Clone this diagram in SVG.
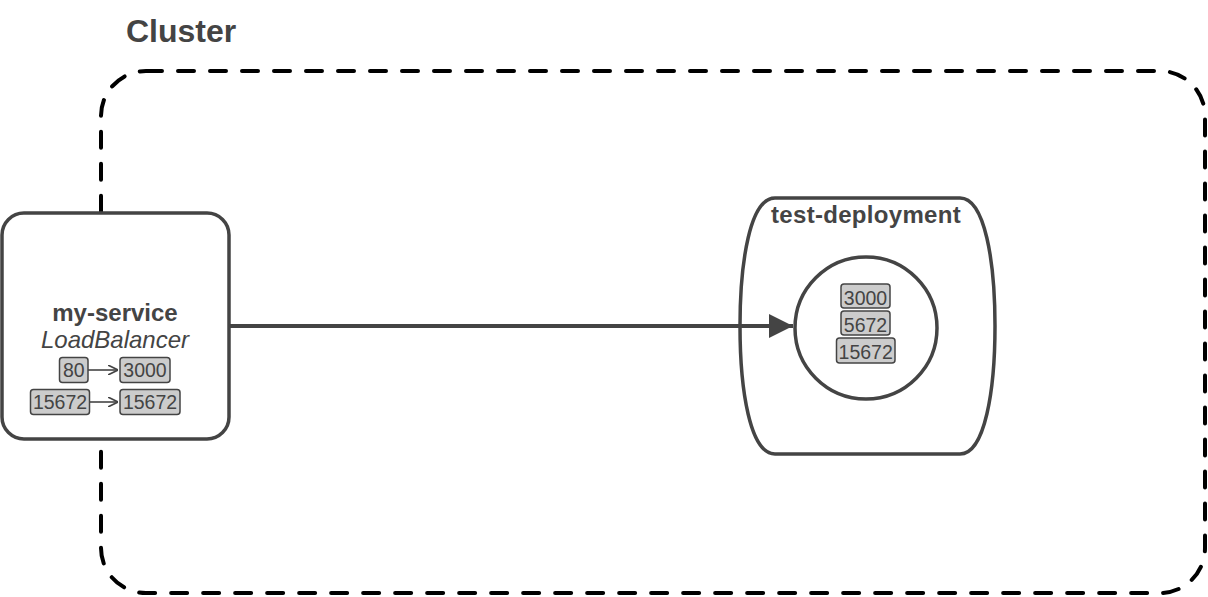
<svg xmlns="http://www.w3.org/2000/svg" width="1208" height="597" viewBox="0 0 1208 597">
<style>
  .lbl{font-family:"Helvetica Neue","Liberation Sans",Arial,sans-serif;fill:#444}
  .port{fill:#ccc;stroke:#444;stroke-width:1.5}
  .pt{font-family:"Helvetica Neue","Liberation Sans",Arial,sans-serif;font-size:19.5px;fill:#444;text-anchor:middle}
  .node{fill:#fff;stroke:#444;stroke-width:3.5}
</style>
<defs>
  <marker id="big" viewBox="0 0 10 10" refX="10" refY="5" markerWidth="6.5" markerHeight="6" markerUnits="strokeWidth" orient="auto">
    <path d="M0,0 L10,5 L0,10 Z" fill="#444"/>
  </marker>
  <marker id="open" viewBox="0 0 10 10" refX="10" refY="5" markerWidth="10" markerHeight="10" markerUnits="userSpaceOnUse" orient="auto">
    <path d="M0,0 L10,5 L0,10" fill="none" stroke="#444" stroke-width="1.6"/>
  </marker>
</defs>
<rect width="1208" height="597" fill="#fff"/>
<g id="cluster">
  <rect x="101" y="71" width="1104" height="522" rx="45" fill="none" stroke="#000" stroke-width="4" stroke-dasharray="16 16" stroke-linecap="round"/>
  <text class="lbl" x="126" y="42" font-size="32" font-weight="bold">Cluster</text>
</g>
<g id="my-service">
  <rect class="node" x="2" y="213" width="227" height="226" rx="22"/>
  <text class="lbl" x="115" y="320.5" font-size="24" font-weight="bold" text-anchor="middle">my-service</text>
  <text class="lbl" x="115" y="348" font-size="24" font-style="italic" text-anchor="middle">LoadBalancer</text>
  <rect class="port" x="59.5" y="357.5" width="28.5" height="25" rx="3"/>
  <text class="pt" x="73.8" y="377.2">80</text>
  <line x1="88" y1="370" x2="118" y2="370" stroke="#444" stroke-width="1.6" marker-end="url(#open)"/>
  <rect class="port" x="120" y="357.5" width="50" height="25" rx="3"/>
  <text class="pt" x="145" y="377.2">3000</text>
  <rect class="port" x="30.5" y="389.5" width="59" height="25" rx="3"/>
  <text class="pt" x="60" y="409.2">15672</text>
  <line x1="89.5" y1="402" x2="118" y2="402" stroke="#444" stroke-width="1.6" marker-end="url(#open)"/>
  <rect class="port" x="120" y="389.5" width="60" height="25" rx="3"/>
  <text class="pt" x="150" y="409.2">15672</text>
</g>
<g id="test-deployment">
  <path class="node" d="M775,198 H960 C985,198 995,262 995,326 C995,390 985,454 960,454 H775 C750,454 740,390 740,326 C740,262 750,198 775,198 Z"/>
  <text class="lbl" x="866" y="223.3" font-size="24" font-weight="bold" text-anchor="middle" letter-spacing="0.3">test-deployment</text>
</g>
<g id="pod">
  <circle class="node" cx="866" cy="328" r="71"/>
  <rect class="port" x="841" y="284" width="49" height="24" rx="3"/>
  <text class="pt" x="865.5" y="305">3000</text>
  <rect class="port" x="841" y="311" width="49" height="24" rx="3"/>
  <text class="pt" x="865.5" y="332.3">5672</text>
  <rect class="port" x="836.5" y="338" width="58.5" height="25" rx="3"/>
  <text class="pt" x="865.7" y="359">15672</text>
</g>
<g id="connectors">
  <line x1="229" y1="326" x2="793" y2="326" stroke="#444" stroke-width="4" marker-end="url(#big)"/>
</g>
</svg>
